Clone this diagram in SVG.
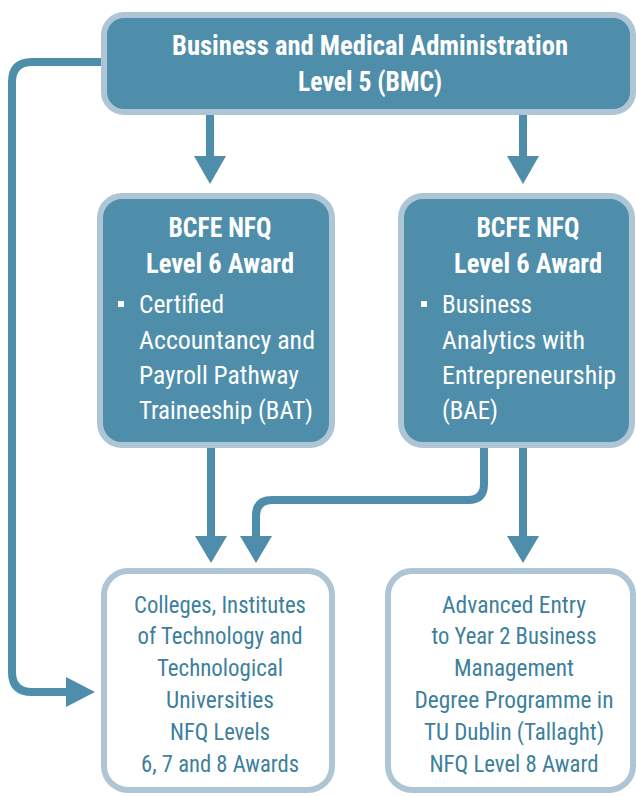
<svg xmlns="http://www.w3.org/2000/svg" width="636" height="796" viewBox="0 0 636 796">
<defs>
<style>
.dark{fill:#4f8eab;stroke:#aec5d5;stroke-width:6}
.light{fill:#ffffff;stroke:#aec5d5;stroke-width:6}
.t{font-family:"Roboto Condensed","Liberation Sans Narrow","Roboto","Liberation Sans",sans-serif}
.tb{fill:#ffffff;font-weight:bold;font-size:27px;text-anchor:middle}
.tw{fill:#ffffff;font-size:26.5px}
.tc{fill:#3d7f9d;font-size:24.5px;text-anchor:middle}
.conn{fill:none;stroke:#4f8eab;stroke-width:8}
.head{fill:#4f8eab}
</style>
</defs>
<rect width="636" height="796" fill="#ffffff"/>
<g id="connectors">
<path class="conn" d="M104,62 H32 Q12,62 12,82 V672 Q12,692 32,692 H70"/>
<polygon class="head" points="66,677 95,692 66,707"/>
<path class="conn" d="M210,112 V158"/>
<polygon class="head" points="194,156 226,156 210,184"/>
<path class="conn" d="M523,112 V158"/>
<polygon class="head" points="507,156 539,156 523,184"/>
<path class="conn" d="M211,446 V538"/>
<polygon class="head" points="195,536 227,536 211,563"/>
<path class="conn" d="M484,446 V484 Q484,500 468,500 H272 Q256,500 256,516 V538"/>
<polygon class="head" points="240,536 272,536 256,563"/>
<path class="conn" d="M523,446 V538"/>
<polygon class="head" points="507,536 539,536 523,563"/>
</g>
<g id="bmc">
<rect class="dark" x="104" y="15" width="529" height="97" rx="20"/>
<text class="t tb" x="370" y="55" font-size="28" textLength="396" lengthAdjust="spacingAndGlyphs">Business and Medical Administration</text>
<text class="t tb" x="370" y="91" font-size="28" textLength="144" lengthAdjust="spacingAndGlyphs">Level 5 (BMC)</text>
</g>
<g id="bat">
<rect class="dark" x="100" y="196" width="232" height="249" rx="22"/>
<text class="t tb" x="220" y="237" textLength="103" lengthAdjust="spacingAndGlyphs">BCFE NFQ</text>
<text class="t tb" x="220" y="273" textLength="148" lengthAdjust="spacingAndGlyphs">Level 6 Award</text>
<rect x="118" y="301" width="6" height="6" fill="#ffffff"/>
<text class="t tw" x="139" y="313" textLength="85" lengthAdjust="spacingAndGlyphs">Certified</text>
<text class="t tw" x="139" y="349" textLength="176" lengthAdjust="spacingAndGlyphs">Accountancy and</text>
<text class="t tw" x="139" y="384" textLength="160" lengthAdjust="spacingAndGlyphs">Payroll Pathway</text>
<text class="t tw" x="139" y="419" textLength="174" lengthAdjust="spacingAndGlyphs">Traineeship (BAT)</text>
</g>
<g id="bae">
<rect class="dark" x="401" y="196" width="231" height="249" rx="22"/>
<text class="t tb" x="528" y="237" textLength="103" lengthAdjust="spacingAndGlyphs">BCFE NFQ</text>
<text class="t tb" x="528" y="273" textLength="148" lengthAdjust="spacingAndGlyphs">Level 6 Award</text>
<rect x="421" y="301" width="6" height="6" fill="#ffffff"/>
<text class="t tw" x="442" y="313" textLength="90" lengthAdjust="spacingAndGlyphs">Business</text>
<text class="t tw" x="442" y="349" textLength="143" lengthAdjust="spacingAndGlyphs">Analytics with</text>
<text class="t tw" x="442" y="384" textLength="174" lengthAdjust="spacingAndGlyphs">Entrepreneurship</text>
<text class="t tw" x="442" y="419" textLength="56" lengthAdjust="spacingAndGlyphs">(BAE)</text>
</g>
<g id="colleges">
<rect class="light" x="104" y="571" width="228" height="219" rx="24"/>
<text class="t tc" x="220" y="613" textLength="172" lengthAdjust="spacingAndGlyphs">Colleges, Institutes</text>
<text class="t tc" x="220" y="644" textLength="165" lengthAdjust="spacingAndGlyphs">of Technology and</text>
<text class="t tc" x="220" y="676" textLength="126" lengthAdjust="spacingAndGlyphs">Technological</text>
<text class="t tc" x="220" y="708" textLength="108" lengthAdjust="spacingAndGlyphs">Universities</text>
<text class="t tc" x="220" y="740" textLength="100" lengthAdjust="spacingAndGlyphs">NFQ Levels</text>
<text class="t tc" x="220" y="772" textLength="158" lengthAdjust="spacingAndGlyphs">6, 7 and 8 Awards</text>
</g>
<g id="tudublin">
<rect class="light" x="388" y="571" width="245" height="219" rx="24"/>
<text class="t tc" x="514" y="613" textLength="144" lengthAdjust="spacingAndGlyphs">Advanced Entry</text>
<text class="t tc" x="514" y="644" textLength="165" lengthAdjust="spacingAndGlyphs">to Year 2 Business</text>
<text class="t tc" x="514" y="676" textLength="120" lengthAdjust="spacingAndGlyphs">Management</text>
<text class="t tc" x="514" y="708" textLength="199" lengthAdjust="spacingAndGlyphs">Degree Programme in</text>
<text class="t tc" x="514" y="740" textLength="180" lengthAdjust="spacingAndGlyphs">TU Dublin (Tallaght)</text>
<text class="t tc" x="514" y="772" textLength="169" lengthAdjust="spacingAndGlyphs">NFQ Level 8 Award</text>
</g>
</svg>
